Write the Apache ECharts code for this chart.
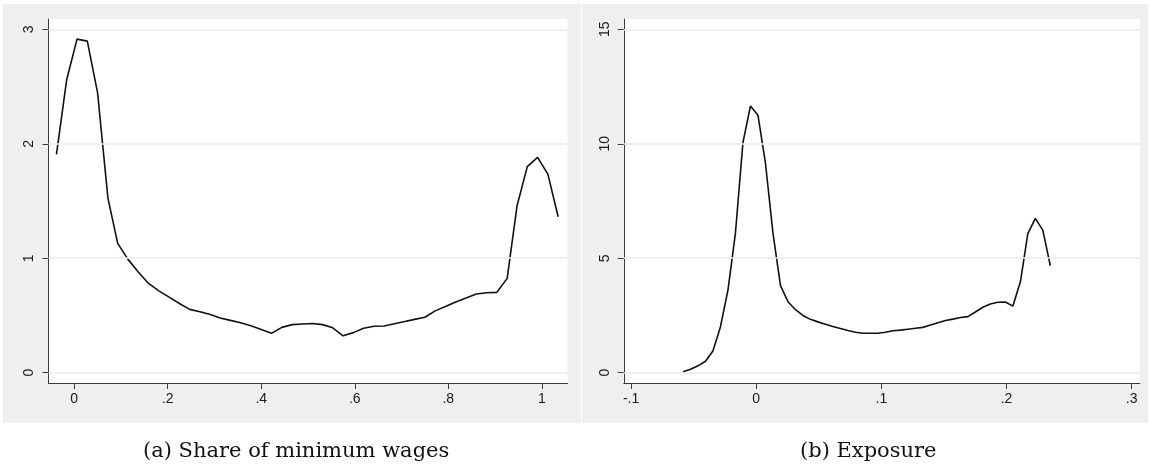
<!DOCTYPE html>
<html><head><meta charset="utf-8">
<script src="https://cdn.jsdelivr.net/npm/echarts@6/dist/echarts.min.js"></script>
<style>html,body{margin:0;padding:0;background:#fff}#c{width:1151px;height:467px}</style>
</head><body><div id="c"></div>
<script>
// Panel (a): share of minimum wages (kernel density)
const shareX = [-0.038,-0.016,0.006,0.028,0.050,0.072,0.093,0.115,0.137,0.159,0.181,0.203,0.225,0.247,0.269,0.291,0.312,0.334,0.356,0.378,0.400,0.422,0.444,0.466,0.488,0.510,0.531,0.553,0.575,0.597,0.619,0.641,0.663,0.685,0.707,0.728,0.750,0.772,0.794,0.816,0.838,0.860,0.882,0.904,0.926,0.947,0.969,0.991,1.013,1.035];
const shareY = [1.907,2.562,2.914,2.897,2.445,1.528,1.13,0.99,0.88,0.78,0.715,0.66,0.605,0.553,0.533,0.508,0.478,0.457,0.437,0.41,0.377,0.344,0.396,0.42,0.426,0.43,0.42,0.392,0.322,0.35,0.388,0.406,0.408,0.428,0.447,0.466,0.484,0.54,0.578,0.618,0.652,0.687,0.699,0.702,0.824,1.456,1.8,1.881,1.735,1.362];
// Panel (b): exposure (kernel density)
const exposureX = [-0.0585,-0.0525,-0.0465,-0.0405,-0.0346,-0.0286,-0.0226,-0.0166,-0.0106,-0.0046,0.0014,0.0074,0.0134,0.0194,0.0254,0.0314,0.0373,0.0433,0.0493,0.0553,0.0613,0.0673,0.0733,0.0793,0.0853,0.0913,0.0972,0.1032,0.1092,0.1152,0.1212,0.1272,0.1332,0.1392,0.1452,0.1512,0.1572,0.1632,0.1692,0.1751,0.1811,0.1871,0.1931,0.1991,0.2051,0.2111,0.2170,0.2230,0.2290,0.2350];
const exposureY = [0.04,0.15,0.3,0.5,0.95,2.0,3.6,6.1,10.05,11.65,11.25,9.15,6.1,3.8,3.1,2.75,2.5,2.33,2.22,2.12,2.02,1.93,1.84,1.77,1.72,1.72,1.72,1.77,1.83,1.86,1.9,1.94,1.98,2.08,2.18,2.28,2.34,2.41,2.45,2.65,2.86,3.0,3.08,3.09,2.91,3.97,6.06,6.74,6.23,4.67];
// Tick labels
const shareXTicks = [0,0.2,0.4,0.6,0.8,1];
const shareYTicks = [0,1,2,3];
const exposureXTicks = [-0.1,0,0.1,0.2,0.3];
const exposureYTicks = [0,5,10,15];
const captions = ['(a) Share of minimum wages','(b) Exposure'];

function stataFmt(v){
  let s = String(Math.round(v*1000)/1000);
  s = s.replace(/^0\./,'.').replace(/^-0\./,'-.');
  return s;
}
const axisColor = '#3a3a3a';
const gridColor = '#e4ecee';
const labelFont = {fontFamily:'Liberation Sans, Arial, sans-serif', fontSize:14, color:'#1a1a1a'};

function xAxis(idx, min, max, ticks){
  return {type:'value', gridIndex:idx, min:min, max:max,
    axisLine:{show:true, onZero:false, lineStyle:{color:axisColor, width:1}},
    axisTick:{show:true, length:6, customValues:ticks, lineStyle:{color:axisColor}},
    axisLabel:Object.assign({customValues:ticks, margin:9, formatter:stataFmt}, labelFont),
    splitLine:{show:false}};
}
function yAxis(idx, min, max, ticks){
  return {type:'value', gridIndex:idx, min:min, max:max,
    axisLine:{show:true, onZero:false, lineStyle:{color:axisColor, width:1}},
    axisTick:{show:true, length:6, customValues:ticks, lineStyle:{color:axisColor}},
    axisLabel:Object.assign({customValues:ticks, margin:12, rotate:90, formatter:stataFmt}, labelFont),
    splitLine:{show:false}};
}
function gridLines(ticks){
  return {silent:true, symbol:'none', label:{show:false},
    lineStyle:{color:gridColor, width:1.5, type:'solid'},
    data: ticks.map(v => ({yAxis:v}))};
}
const lineStyle = {color:'#111', width:1.6};

const chart = echarts.init(document.getElementById('c'), null, {renderer:'canvas'});
chart.setOption({
  animation:false,
  backgroundColor:'#ffffff',
  graphic:[
    {type:'rect', shape:{x:3,y:4,width:578,height:419}, style:{fill:'#efefef'}, z:-10},
    {type:'rect', shape:{x:582,y:4,width:566,height:419}, style:{fill:'#efefef'}, z:-10},
    {type:'text', left:143, top:441, style:{text:captions[0], fill:'#111', font:'21px "DejaVu Serif", serif'}},
    {type:'text', left:800, top:441, style:{text:captions[1], fill:'#111', font:'21px "DejaVu Serif", serif'}}
  ],
  grid:[
    {left:48.5, top:19, width:519, height:364, show:true, backgroundColor:'#ffffff', borderWidth:0},
    {left:623.8, top:19, width:516, height:364, show:true, backgroundColor:'#ffffff', borderWidth:0}
  ],
  xAxis:[ xAxis(0,-0.055,1.055,shareXTicks), xAxis(1,-0.1058,0.3065,exposureXTicks) ],
  yAxis:[ yAxis(0,-0.09,3.09,shareYTicks), yAxis(1,-0.45,15.45,exposureYTicks) ],
  series:[
    {type:'line', xAxisIndex:0, yAxisIndex:0, showSymbol:false, symbol:'none', lineStyle:lineStyle,
      data: shareX.map((x,i)=>[x, shareY[i]]), markLine:gridLines(shareYTicks), z:3},
    {type:'line', xAxisIndex:1, yAxisIndex:1, showSymbol:false, symbol:'none', lineStyle:lineStyle,
      data: exposureX.map((x,i)=>[x, exposureY[i]]), markLine:gridLines(exposureYTicks), z:3}
  ]
});
</script></body></html>
